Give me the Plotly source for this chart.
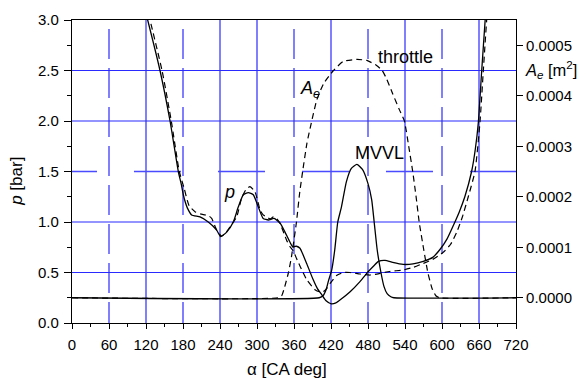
import plotly.graph_objects as go

# ---------------- data ----------------
# crank angle [deg] and cylinder pressure [bar], MVVL (solid)
p_mvvl_x = [112, 122.7, 142.7, 159, 172.4, 177, 180.5, 184, 187, 194, 207.6, 221, 234.6, 241,
            250.8, 261.6, 269.7, 277.8, 285.9, 294, 302, 310, 318.4, 327.6, 337.3, 345.4, 353.5,
            358, 364, 369.7, 375, 380.5, 391, 398, 405, 412, 420.5, 428, 435, 451, 467, 480.5,
            490, 497, 507.6, 520, 537, 553, 569.6, 585, 597, 608, 618, 628, 637, 648, 654, 659,
            664.4, 670, 675]
p_mvvl = [3.25, 3.0, 2.5, 2.0, 1.5, 1.38, 1.27, 1.19, 1.14, 1.07, 1.05, 1.00, 0.92, 0.855,
          0.90, 1.00, 1.15, 1.27, 1.29, 1.27, 1.15, 1.035, 1.02, 1.035, 0.99, 0.90, 0.80,
          0.755, 0.76, 0.74, 0.67, 0.59, 0.43, 0.34, 0.28, 0.22, 0.19, 0.20, 0.23, 0.31, 0.41, 0.51,
          0.57, 0.61, 0.62, 0.60, 0.58, 0.585, 0.61, 0.65, 0.73, 0.83, 0.96, 1.10, 1.25, 1.50, 1.72, 1.99,
          2.50, 3.0, 3.45]

# cylinder pressure [bar], throttle (dashed)
p_thr_x = [116, 126.5, 146, 161, 174, 182, 190, 200, 208, 215.7, 222, 226.5, 234.6, 242.6, 249,
           256, 267, 275, 282, 288.6, 296.7, 305, 310, 315.7, 321, 326.5, 331, 337, 348, 353, 359,
           364, 370, 380.5, 394, 401, 407.5, 413, 418.4, 429, 440, 451, 467, 483, 499, 515, 537,
           553, 569.6, 585, 602, 614, 624, 633, 642.6, 653.5, 661.6, 667, 672.4, 678]
p_thr = [3.25, 3.0, 2.5, 2.0, 1.5, 1.33, 1.16, 1.10, 1.08, 1.07, 1.06, 1.035, 0.92, 0.86, 0.89,
         0.95, 1.05, 1.235, 1.32, 1.35, 1.30, 1.12, 1.07, 1.05, 1.03, 1.05, 1.04, 0.99, 0.82, 0.76, 0.71,
         0.64, 0.56, 0.43, 0.33, 0.31, 0.31, 0.34, 0.39, 0.47, 0.50, 0.50, 0.485, 0.475, 0.49, 0.51, 0.525,
         0.55, 0.59, 0.63, 0.70, 0.78, 0.90, 1.05, 1.25, 1.50, 1.99, 2.5, 3.0, 3.5]

# effective flow area A_e [m^2], throttle (dashed)
ae_thr_x = [0, 334, 340, 345, 351, 356, 364, 369, 374, 381, 388, 397, 408, 424, 440, 462, 478,
            494, 503, 510, 520, 531, 539, 546, 552.5, 558, 563, 570, 577, 584, 590, 596, 720]
ae_thr = [0, 0, 0.000004, 0.000022, 0.00005, 0.000082, 0.00015, 0.000206, 0.00025, 0.000306,
          0.000346, 0.000392, 0.000424, 0.00045, 0.000468, 0.000472, 0.00047, 0.00046, 0.00045,
          0.000434, 0.000404, 0.000372, 0.00035, 0.0003, 0.00025, 0.0002, 0.00015, 0.000098,
          0.00005, 0.000018, 0.000004, 0, 0]

# effective flow area A_e [m^2], MVVL (solid)
ae_mvvl_x = [0, 401, 407, 412, 416, 421, 426, 431, 437, 445, 453, 462, 471, 480, 486, 490, 495,
             501, 506, 511, 517, 522, 720]
ae_mvvl = [0, 0, 0.000004, 0.000016, 0.000034, 0.000054, 0.000094, 0.00015, 0.00018, 0.00023,
           0.000256, 0.000264, 0.000254, 0.000226, 0.000194, 0.00015, 0.000094, 0.00005,
           0.000022, 0.000008, 0.000002, 0, 0]

x_ticks = [0, 60, 120, 180, 240, 300, 360, 420, 480, 540, 600, 660, 720]
y_ticks = [0.0, 0.5, 1.0, 1.5, 2.0, 2.5, 3.0]
y2_ticks = [0.0, 0.0001, 0.0002, 0.0003, 0.0004, 0.0005]

grid_x_solid = [120, 240, 300, 420, 540, 660]
grid_x_dashed = [60, 180, 360, 480, 600]
grid_y_solid = [0.5, 1.0, 2.0, 2.5]
grid_y_dashed = [1.5]

labels = [("throttle", 540, 2.63), ("MVVL", 498, 1.68)]

# ---------------- figure ----------------
FONT = "Liberation Sans, Arial, sans-serif"
fig = go.Figure()

fig.add_trace(go.Scatter(x=ae_thr_x, y=ae_thr, yaxis="y2", mode="lines",
                         line=dict(color="black", width=1.2, dash="6px,4px", shape="spline", smoothing=0.5),
                         showlegend=False))
fig.add_trace(go.Scatter(x=ae_mvvl_x, y=ae_mvvl, yaxis="y2", mode="lines",
                         line=dict(color="black", width=1.3, shape="spline", smoothing=0.5),
                         showlegend=False))
fig.add_trace(go.Scatter(x=p_thr_x, y=p_thr, mode="lines",
                         line=dict(color="black", width=1.2, dash="6px,4px", shape="spline", smoothing=0.5),
                         showlegend=False))
fig.add_trace(go.Scatter(x=p_mvvl_x, y=p_mvvl, mode="lines",
                         line=dict(color="black", width=1.3, shape="spline", smoothing=0.5),
                         showlegend=False))

shapes = []
for gx in grid_x_solid:
    shapes.append(dict(type="line", xref="x", yref="y", x0=gx, x1=gx, y0=0, y1=3,
                       line=dict(color="#0000ff", width=1), layer="below"))
for gx in grid_x_dashed:
    shapes.append(dict(type="line", xref="x", yref="y", x0=gx, x1=gx, y0=-0.09, y1=3,
                       line=dict(color="#4a4aff", width=1.4, dash="30px,9px"), layer="below"))
for gy in grid_y_solid:
    shapes.append(dict(type="line", xref="x", yref="y", x0=0, x1=720, y0=gy, y1=gy,
                       line=dict(color="#2a2aff", width=1.2), layer="below"))
for gy in grid_y_dashed:
    shapes.append(dict(type="line", xref="x", yref="y", x0=-35.7, x1=720, y0=gy, y1=gy,
                       line=dict(color="#4a4aff", width=1.4, dash="47px,37px"), layer="below"))

annotations = []
for txt, ax_, ay_ in labels:
    annotations.append(dict(x=ax_, y=ay_, xref="x", yref="y", text=txt, showarrow=False,
                            xanchor="center", yanchor="middle",
                            font=dict(family=FONT, size=18, color="black")))
annotations.append(dict(x=366, y=2.31, xref="x", yref="y", xanchor="left", yanchor="middle",
                        text="<i>A</i><sub><i>e</i></sub>", showarrow=False,
                        font=dict(family=FONT, size=18, color="black")))
annotations.append(dict(x=256, y=1.30, xref="x", yref="y", xanchor="center", yanchor="middle",
                        text="<i>p</i>", showarrow=False,
                        font=dict(family=FONT, size=18, color="black")))
# axis titles
annotations.append(dict(x=0.485, y=-0.152, xref="paper", yref="paper",
                        xanchor="center", yanchor="middle",
                        text="α [CA deg]", showarrow=False,
                        font=dict(family=FONT, size=17, color="black")))
annotations.append(dict(x=-0.124, y=0.469, xref="paper", yref="paper", textangle=-90,
                        xanchor="center", yanchor="middle",
                        text="<i>p</i> [bar]", showarrow=False,
                        font=dict(family=FONT, size=17, color="black")))
annotations.append(dict(x=1.016, y=0.836, xref="paper", yref="paper", xanchor="left",
                        yanchor="middle",
                        text="<i>A</i><sub><i>e</i></sub> [m<sup>2</sup>]", showarrow=False,
                        font=dict(family=FONT, size=16.5, color="black")))

fig.update_layout(
    width=586, height=379,
    margin=dict(l=72, r=70, t=20, b=56),
    plot_bgcolor="white", paper_bgcolor="white",
    font=dict(family=FONT, size=15, color="black"),
    shapes=shapes, annotations=annotations,
    xaxis=dict(range=[0, 720], tickvals=x_ticks, ticks="outside", ticklen=5, tickwidth=1,
               tickcolor="black", showgrid=False, zeroline=False, showline=True,
               linecolor="black", linewidth=1.2, mirror=True, ticklabelstandoff=3,
               minor=dict(dtick=30, ticks="outside", ticklen=3, tickcolor="black", showgrid=False)),
    yaxis=dict(range=[0, 3], tickvals=y_ticks, tickformat=".1f", ticks="outside", ticklen=7,
               tickwidth=1, tickcolor="black", showgrid=False, zeroline=False, showline=True,
               linecolor="black", linewidth=1.2, mirror=True, ticklabelstandoff=2,
               minor=dict(dtick=0.25, ticks="outside", ticklen=4, tickcolor="black", showgrid=False)),
    yaxis2=dict(overlaying="y", side="right", range=[-0.00005, 0.00055], tickvals=y2_ticks,
                tickformat=".4f", ticks="outside", ticklen=6, tickwidth=1, tickcolor="black",
                showgrid=False, zeroline=False, showline=True, linecolor="black", linewidth=1.2),
)

fig.write_html("out.html", config={"displayModeBar": False},
               post_script="document.body.style.margin='0';")
